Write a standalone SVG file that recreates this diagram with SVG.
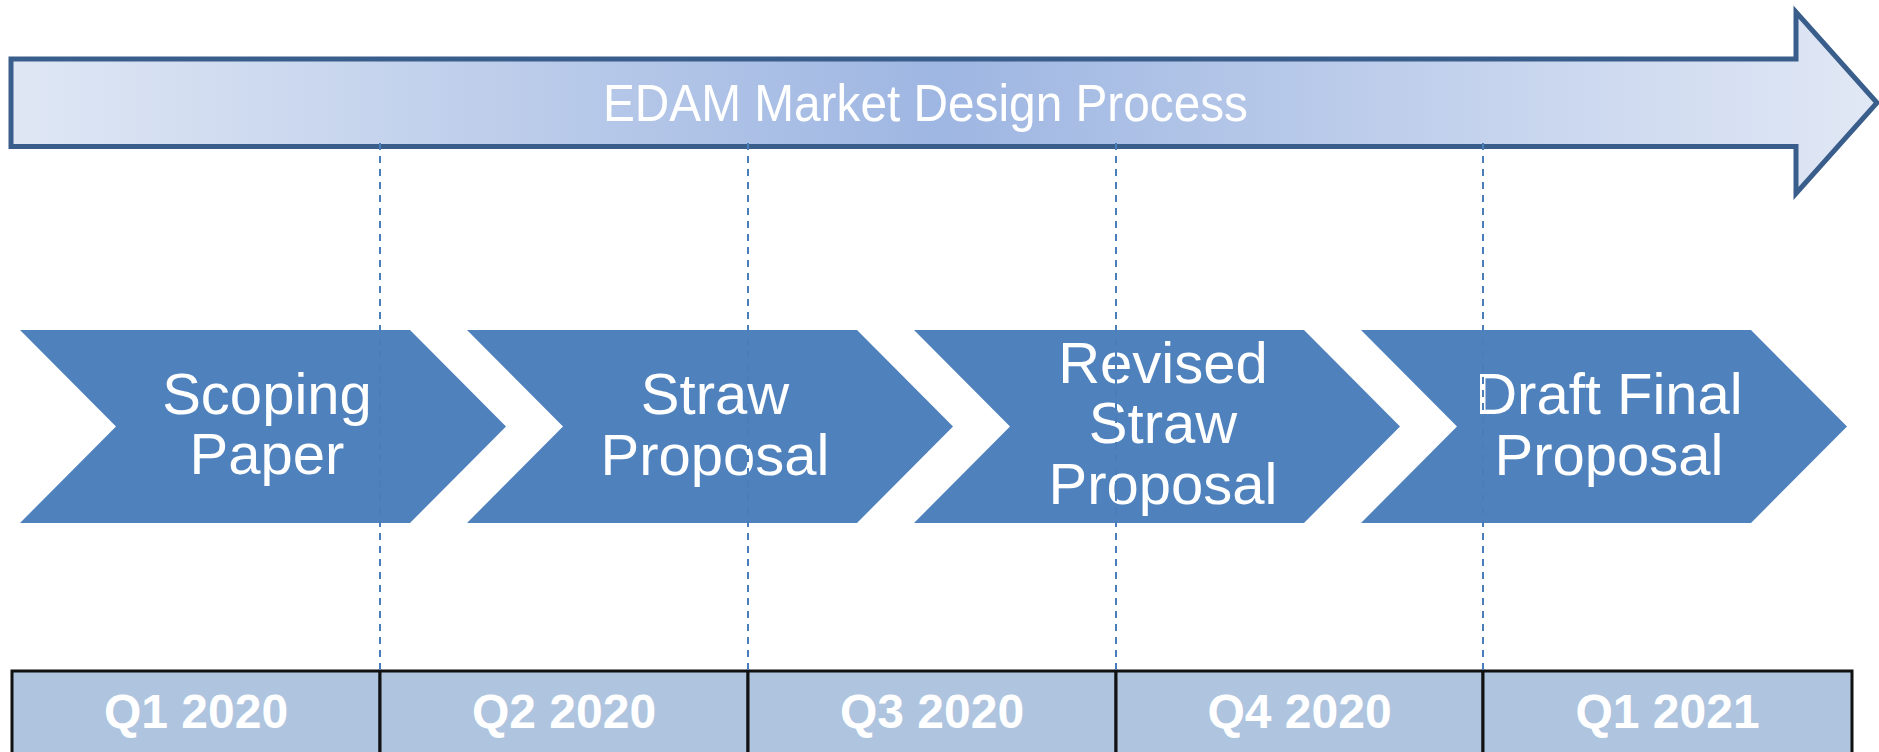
<svg xmlns="http://www.w3.org/2000/svg" width="1879" height="752" viewBox="0 0 1879 752">
  <defs>
    <linearGradient id="bandGrad" x1="0" y1="0" x2="1" y2="0">
      <stop offset="0" stop-color="#DFE7F4"/>
      <stop offset="0.5" stop-color="#9EB6E2"/>
      <stop offset="1" stop-color="#E1E8F5"/>
    </linearGradient>
    <style>
      .band { fill: url(#bandGrad); stroke: #3A5E8B; stroke-width: 5; }
      .bandText { font-family: "Liberation Sans", Arial, sans-serif; font-size: 52px; fill: #FFFFFF; }
      .chev { fill: #4F81BD; }
      .chevText { font-family: "Liberation Sans", Arial, sans-serif; font-size: 58px; fill: #FFFFFF; text-anchor: middle; }
      .guide { stroke: #4A7EBB; stroke-width: 2; stroke-dasharray: 7 6; fill: none; }
      .cell { fill: #AEC4DF; stroke: #111111; stroke-width: 3; }
      .cellText { font-family: "Liberation Sans", Arial, sans-serif; font-size: 48px; font-weight: bold; fill: #FFFFFF; text-anchor: middle; }
    </style>
  </defs>

  <g id="process-arrow">
    <path class="band" d="M11,59 L1796,59 L1796,12 L1877,102.75 L1796,193.5 L1796,146.5 L11,146.5 Z"/>
    <text class="bandText" x="603" y="121" textLength="645" lengthAdjust="spacingAndGlyphs">EDAM Market Design Process</text>
  </g>

  <g id="step-scoping-paper">
    <polygon class="chev" points="20,330 410,330 506,426.5 410,523 20,523 116,426.5"/>
    <text class="chevText" x="267" y="414">Scoping</text>
    <text class="chevText" x="267" y="474">Paper</text>
  </g>

  <g id="step-straw-proposal">
    <polygon class="chev" points="467,330 857,330 953,426.5 857,523 467,523 563,426.5"/>
    <text class="chevText" x="715" y="414">Straw</text>
    <text class="chevText" x="715" y="475">Proposal</text>
  </g>

  <g id="step-revised-straw-proposal">
    <polygon class="chev" points="914,330 1304,330 1400,426.5 1304,523 914,523 1010,426.5"/>
    <text class="chevText" x="1163" y="383">Revised</text>
    <text class="chevText" x="1163" y="443">Straw</text>
    <text class="chevText" x="1163" y="504">Proposal</text>
  </g>

  <g id="step-draft-final-proposal">
    <polygon class="chev" points="1361,330 1751,330 1847,426.5 1751,523 1361,523 1457,426.5"/>
    <text class="chevText" x="1609" y="414">Draft Final</text>
    <text class="chevText" x="1609" y="475">Proposal</text>
  </g>

  <g id="timeline">
    <g id="q1-2020">
      <rect class="cell" x="12" y="671" width="368" height="90"/>
      <text class="cellText" x="196" y="728">Q1 2020</text>
    </g>
    <g id="q2-2020">
      <rect class="cell" x="380" y="671" width="368" height="90"/>
      <text class="cellText" x="564" y="728">Q2 2020</text>
    </g>
    <g id="q3-2020">
      <rect class="cell" x="748" y="671" width="368" height="90"/>
      <text class="cellText" x="932" y="728">Q3 2020</text>
    </g>
    <g id="q4-2020">
      <rect class="cell" x="1116" y="671" width="367" height="90"/>
      <text class="cellText" x="1299.5" y="728">Q4 2020</text>
    </g>
    <g id="q1-2021">
      <rect class="cell" x="1483" y="671" width="369" height="90"/>
      <text class="cellText" x="1667.5" y="728">Q1 2021</text>
    </g>
  </g>

  <g id="connectors">
    <line class="guide" x1="380" y1="143" x2="380" y2="671"/>
    <line class="guide" x1="748" y1="143" x2="748" y2="671"/>
    <line class="guide" x1="1116" y1="143" x2="1116" y2="671"/>
    <line class="guide" x1="1483" y1="143" x2="1483" y2="671"/>
  </g>
</svg>
